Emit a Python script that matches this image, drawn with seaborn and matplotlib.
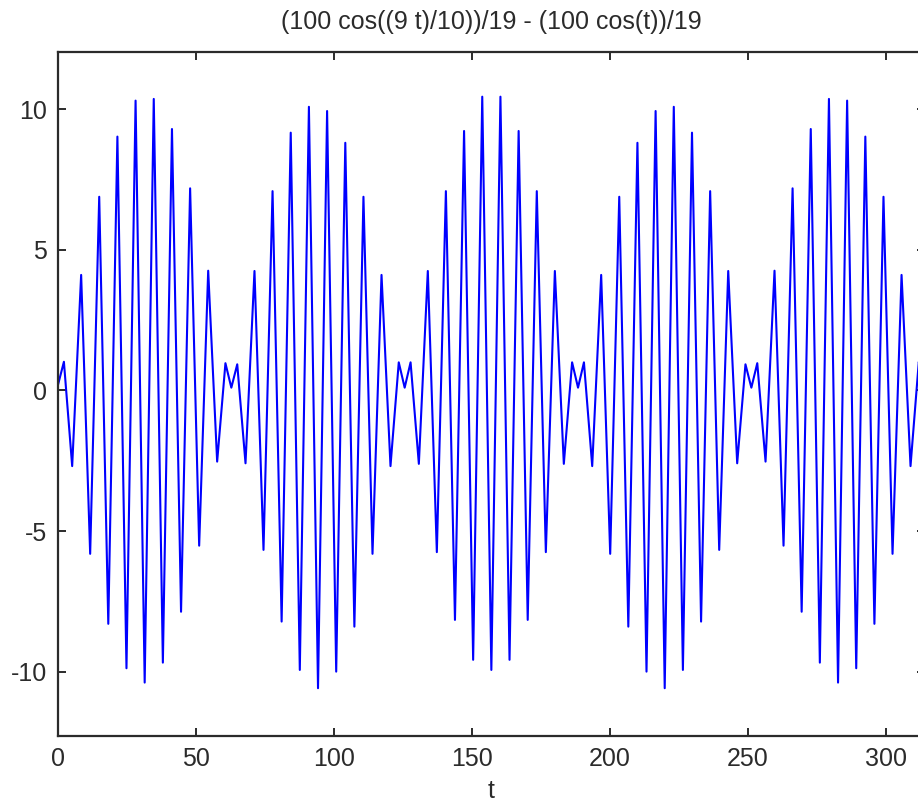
import matplotlib
matplotlib.use("Agg")
import matplotlib.pyplot as plt
import seaborn as sns
import pandas as pd

# Local extrema of the drawn curve (t, value)
t_vals = [
    0.00, 2.14, 5.14, 8.39, 11.66, 14.94, 18.23, 21.53, 24.82, 28.12,
    31.42, 34.71, 38.01, 41.31, 44.60, 47.89, 51.17, 54.44, 57.69, 60.69,
    62.83, 64.97, 67.97, 71.22, 74.49, 77.77, 81.06, 84.36, 87.65, 90.95,
    94.25, 97.54, 100.84, 104.14, 107.43, 110.72, 114.00, 117.27, 120.52, 123.52,
    125.66, 127.80, 130.80, 134.05, 137.32, 140.60, 143.89, 147.19, 150.48, 153.78,
    157.08, 160.37, 163.67, 166.97, 170.26, 173.55, 176.83, 180.10, 183.35, 186.35,
    188.50, 190.64, 193.64, 196.89, 200.16, 203.44, 206.73, 210.03, 213.32, 216.62,
    219.92, 223.21, 226.51, 229.81, 233.10, 236.39, 239.67, 242.94, 246.19, 249.19,
    251.33, 253.47, 256.47, 259.72, 262.99, 266.27, 269.56, 272.86, 276.15, 279.45,
    282.75, 286.04, 289.34, 292.64, 295.93, 299.22, 302.50, 305.77, 309.02, 312.02,
    314.16,
]
y_vals = [
    0.20, 1.02, -2.69, 4.11, -5.81, 6.89, -8.30, 9.03, -9.88, 10.31,
    -10.39, 10.37, -9.68, 9.30, -7.87, 7.19, -5.52, 4.26, -2.53, 0.97,
    0.10, 0.93, -2.59, 4.25, -5.67, 7.09, -8.22, 9.17, -9.94, 10.09,
    -10.59, 9.94, -10.00, 8.81, -8.40, 6.89, -5.81, 4.11, -2.69, 1.00,
    0.10, 1.00, -2.61, 4.25, -5.75, 7.09, -8.16, 9.23, -9.58, 10.45,
    -9.94, 10.45, -9.58, 9.23, -8.16, 7.09, -5.75, 4.25, -2.61, 1.00,
    0.10, 1.00, -2.69, 4.11, -5.81, 6.89, -8.40, 8.81, -10.00, 9.94,
    -10.59, 10.09, -9.94, 9.17, -8.22, 7.09, -5.67, 4.25, -2.59, 0.93,
    0.10, 0.97, -2.53, 4.26, -5.52, 7.19, -7.87, 9.30, -9.68, 10.37,
    -10.39, 10.31, -9.88, 9.03, -8.30, 6.89, -5.81, 4.11, -2.69, 1.02,
    0.20,
]
x_ticks = [0, 50, 100, 150, 200, 250, 300]
y_ticks = [-10, -5, 0, 5, 10]
title_text = "(100 cos((9 t)/10))/19 - (100 cos(t))/19"
x_label = "t"

sns.set_style("ticks")
plt.rcParams["font.family"] = ["Liberation Sans", "DejaVu Sans"]

W, H = 918, 806
fig = plt.figure(figsize=(W / 100, H / 100), dpi=100, facecolor="white")
left = 58 / W
right_px = 924.7
bottom = (H - 736) / H
top = (H - 51.7) / H
ax = fig.add_axes([left, bottom, (right_px - 58) / W, top - bottom])

df = pd.DataFrame({"t": t_vals, "y": y_vals})
sns.lineplot(data=df, x="t", y="y", sort=False, estimator=None,
             color="#0000ff", linewidth=1.5, ax=ax)

dark = "#2b2b2b"
ax.set_xlim(0, 314.16)
ax.set_ylim(-12.29, 12.05)
ax.set_xticks(x_ticks)
ax.set_yticks(y_ticks)
ax.set_xticklabels([str(v) for v in x_ticks])
ax.set_yticklabels([str(v) for v in y_ticks])
for s in ax.spines.values():
    s.set_visible(True)
    s.set_color(dark)
    s.set_linewidth(1.6)
ax.tick_params(direction="in", length=6, width=1.4, color=dark,
               labelsize=18, labelcolor=dark, pad=8,
               top=True, right=True)
ax.set_title(title_text, fontsize=18, color=dark, pad=16)
ax.set_xlabel(x_label, fontsize=18, color=dark, labelpad=6)
ax.set_ylabel("")
ax.set_facecolor("white")

fig.savefig("out.png", dpi=100, facecolor="white")
